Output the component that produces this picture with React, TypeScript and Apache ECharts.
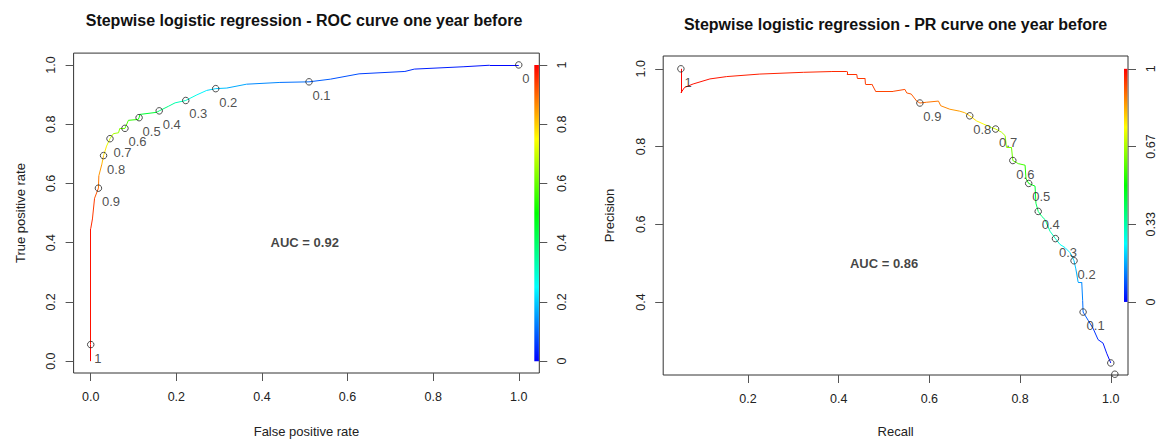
import React, { useEffect, useRef } from 'react';
import * as echarts from 'echarts';

// ---------- texts ----------
const rocTitle = 'Stepwise logistic regression - ROC curve one year before';
const prTitle = 'Stepwise logistic regression - PR curve one year before';
const rocXName = 'False positive rate';
const rocYName = 'True positive rate';
const prXName = 'Recall';
const prYName = 'Precision';
const rocAucText = 'AUC = 0.92';
const prAucText = 'AUC = 0.86';
const rocAucPos = [0.5, 0.4];
const prAucPos = [0.5, 0.5];

// ---------- ROC curve (fpr, tpr, cutoff) ----------
const rocFpr = [0, 0, 0, 0.004, 0.009, 0.018, 0.019, 0.026, 0.030, 0.037, 0.045, 0.053, 0.065, 0.068, 0.080, 0.088, 0.111, 0.113, 0.115, 0.154, 0.160, 0.181, 0.197, 0.222, 0.248, 0.271, 0.292, 0.318, 0.364, 0.442, 0.510, 0.560, 0.627, 0.734, 0.756, 0.872, 0.932, 1.0];
const rocTpr = [0, 0.056, 0.447, 0.48, 0.55, 0.584, 0.626, 0.665, 0.694, 0.726, 0.751, 0.768, 0.771, 0.786, 0.786, 0.813, 0.816, 0.822, 0.833, 0.840, 0.845, 0.860, 0.872, 0.880, 0.899, 0.914, 0.920, 0.922, 0.935, 0.941, 0.943, 0.952, 0.970, 0.978, 0.986, 0.994, 0.999, 1.0];
const rocCutoff = [1, 1, 0.97, 0.95, 0.93, 0.9, 0.87, 0.83, 0.8, 0.75, 0.7, 0.67, 0.65, 0.62, 0.6, 0.56, 0.52, 0.5, 0.48, 0.42, 0.4, 0.36, 0.33, 0.3, 0.26, 0.22, 0.2, 0.18, 0.15, 0.12, 0.1, 0.085, 0.07, 0.05, 0.04, 0.02, 0.01, 0];

// labelled cutoffs on ROC
const rocMarkFpr = [0, 0.018, 0.030, 0.045, 0.080, 0.113, 0.160, 0.222, 0.292, 0.510, 1.0];
const rocMarkTpr = [0.056, 0.584, 0.694, 0.751, 0.786, 0.822, 0.845, 0.880, 0.920, 0.943, 1.0];
const rocMarkLabel = ['1', '0.9', '0.8', '0.7', '0.6', '0.5', '0.4', '0.3', '0.2', '0.1', '0'];

// ---------- PR curve (recall, precision, cutoff) ----------
const prRecall = [0.052, 0.052, 0.060, 0.079, 0.116, 0.153, 0.226, 0.322, 0.385, 0.418, 0.418, 0.440, 0.441, 0.458, 0.459, 0.473, 0.482, 0.520, 0.546, 0.550, 0.560, 0.572, 0.579, 0.594, 0.620, 0.625, 0.645, 0.667, 0.678, 0.689, 0.704, 0.719, 0.737, 0.746, 0.759, 0.767, 0.770, 0.781, 0.784, 0.796, 0.811, 0.813, 0.819, 0.833, 0.835, 0.840, 0.848, 0.855, 0.866, 0.878, 0.888, 0.899, 0.910, 0.919, 0.923, 0.928, 0.936, 0.938, 0.939, 0.950, 0.961, 0.972, 0.983, 0.991, 1.0];
const prPrecision = [1.0, 0.938, 0.952, 0.961, 0.974, 0.980, 0.9865, 0.991, 0.993, 0.993, 0.985, 0.985, 0.976, 0.976, 0.961, 0.961, 0.941, 0.942, 0.947, 0.938, 0.935, 0.917, 0.912, 0.914, 0.917, 0.905, 0.896, 0.891, 0.887, 0.879, 0.866, 0.858, 0.849, 0.845, 0.837, 0.828, 0.798, 0.798, 0.764, 0.756, 0.752, 0.718, 0.705, 0.698, 0.654, 0.633, 0.620, 0.612, 0.582, 0.563, 0.548, 0.540, 0.527, 0.506, 0.485, 0.451, 0.451, 0.404, 0.374, 0.353, 0.332, 0.303, 0.294, 0.268, 0.243];
const prCutoff = [1.0, 0.99, 0.988, 0.985, 0.98, 0.975, 0.97, 0.965, 0.96, 0.955, 0.955, 0.95, 0.95, 0.945, 0.94, 0.94, 0.935, 0.93, 0.925, 0.92, 0.915, 0.905, 0.9, 0.89, 0.88, 0.875, 0.86, 0.84, 0.82, 0.8, 0.77, 0.74, 0.72, 0.7, 0.68, 0.66, 0.64, 0.62, 0.6, 0.58, 0.55, 0.52, 0.5, 0.47, 0.43, 0.4, 0.38, 0.36, 0.33, 0.3, 0.27, 0.25, 0.22, 0.2, 0.18, 0.16, 0.14, 0.12, 0.1, 0.08, 0.06, 0.04, 0.03, 0.02, 0.0];

// labelled cutoffs on PR (last two labels fall outside the plot region)
const prMarkRecall = [0.052, 0.579, 0.689, 0.746, 0.784, 0.819, 0.840, 0.878, 0.919, 0.939, 1.0, 1.009];
const prMarkPrecision = [1.0, 0.912, 0.879, 0.845, 0.764, 0.705, 0.633, 0.563, 0.506, 0.374, 0.243, 0.214];
const prMarkLabel = ['1', '0.9', '0.8', '0.7', '0.6', '0.5', '0.4', '0.3', '0.2', '0.1', '', ''];

// ---------- ticks ----------
const rocTicks = [0, 0.2, 0.4, 0.6, 0.8, 1.0];
const rocTickLabels = ['0.0', '0.2', '0.4', '0.6', '0.8', '1.0'];
const rocColorTicks = [0, 0.2, 0.4, 0.6, 0.8, 1.0];
const rocColorTickLabels = ['0', '0.2', '0.4', '0.6', '0.8', '1'];
const prXTicks = [0.2, 0.4, 0.6, 0.8, 1.0];
const prXTickLabels = ['0.2', '0.4', '0.6', '0.8', '1.0'];
const prYTicks = [0.4, 0.6, 0.8, 1.0];
const prYTickLabels = ['0.4', '0.6', '0.8', '1.0'];
const prColorTicks = [0.4, 0.6, 0.8, 1.0];
const prColorTickLabels = ['0', '0.33', '0.67', '1'];

// ---------- helpers ----------
const rainbow = (c: number) => `hsl(${Math.round((1 - c) * 240)}, 100%, 50%)`;

const fmt = (ticks: number[], labels: string[]) => (v: number) => {
  const i = ticks.findIndex((t) => Math.abs(t - v) < 1e-6);
  return i >= 0 ? labels[i] : '';
};

const segments = (xs: number[], ys: number[], cs: number[]) => {
  const out: any[] = [];
  for (let i = 0; i < xs.length - 1; i++) {
    out.push({
      coords: [[xs[i], ys[i]], [xs[i + 1], ys[i + 1]]],
      lineStyle: { color: rainbow((cs[i] + cs[i + 1]) / 2) },
    });
  }
  return out;
};

const TXT = '#222';
const TICK = '#555';
const FONT = '"Liberation Sans", Arial, sans-serif';

const valueAxis = (o: any) => ({
  type: 'value',
  gridIndex: o.grid,
  position: o.position,
  min: o.min,
  max: o.max,
  axisLine: { show: false, onZero: false },
  splitLine: { show: false },
  axisTick: { show: true, length: 8, customValues: o.ticks, lineStyle: { color: TICK, width: 1 } },
  axisLabel: {
    customValues: o.ticks,
    formatter: fmt(o.ticks, o.labels),
    fontSize: 12.5,
    color: TXT,
    margin: o.margin,
    rotate: o.rotate || 0,
    fontFamily: FONT,
  },
  name: o.name || '',
  nameLocation: 'middle',
  nameGap: o.nameGap || 0,
  nameTextStyle: { fontSize: 13, color: TXT, fontFamily: FONT },
});

const marks = (xs: number[], ys: number[], labels: string[]) =>
  xs.map((x, i) => ({ value: [x, ys[i]], name: labels[i], label: { show: labels[i] !== '' } }));

export default function App() {
  const ref = useRef<HTMLDivElement>(null);

  useEffect(() => {
    if (!ref.current) return;
    const chart = echarts.init(ref.current, undefined, { renderer: 'svg' });

    const markLabel = {
      show: true,
      position: [7.25, 17.25],
      align: 'left',
      verticalAlign: 'middle',
      fontSize: 13,
      color: TXT,
      fontFamily: FONT,
      formatter: (p: any) => p.name,
    };
    const markStyle = { color: 'rgba(0,0,0,0)', borderColor: '#222', borderWidth: 1 };
    const aucLabel = (t: string) => ({
      show: true,
      position: 'inside',
      fontSize: 13,
      fontWeight: 'bold',
      color: '#111',
      fontFamily: FONT,
      formatter: () => t,
    });

    const option: any = {
      animation: false,
      backgroundColor: '#ffffff',
      textStyle: { fontFamily: FONT },
      title: [
        {
          text: rocTitle,
          left: 304,
          top: 12,
          textAlign: 'center',
          padding: 0,
          textStyle: { fontSize: 16, fontWeight: 'bold', color: '#111', fontFamily: FONT },
        },
        {
          text: prTitle,
          left: 895.5,
          top: 16,
          textAlign: 'center',
          padding: 0,
          textStyle: { fontSize: 16, fontWeight: 'bold', color: '#111', fontFamily: FONT },
        },
      ],
      grid: [
        { left: 73.6, top: 53.1, width: 465.7, height: 322.2, show: true, borderColor: '#333', borderWidth: 1, backgroundColor: 'transparent' },
        { left: 663.2, top: 56, width: 464.8, height: 322.9, show: true, borderColor: '#333', borderWidth: 1, backgroundColor: 'transparent' },
      ],
      xAxis: [
        valueAxis({ grid: 0, position: 'bottom', min: -0.04, max: 1.048, ticks: rocTicks, labels: rocTickLabels, margin: 17, name: rocXName, nameGap: 52 }),
        valueAxis({ grid: 1, position: 'bottom', min: 0.013, max: 1.038, ticks: prXTicks, labels: prXTickLabels, margin: 17, name: prXName, nameGap: 50 }),
      ],
      yAxis: [
        valueAxis({ grid: 0, position: 'left', min: -0.04, max: 1.04, ticks: rocTicks, labels: rocTickLabels, margin: 16, rotate: 90, name: rocYName, nameGap: 47 }),
        valueAxis({ grid: 0, position: 'right', min: -0.04, max: 1.04, ticks: rocColorTicks, labels: rocColorTickLabels, margin: 16, rotate: 90 }),
        valueAxis({ grid: 1, position: 'left', min: 0.212, max: 1.033, ticks: prYTicks, labels: prYTickLabels, margin: 16, rotate: 90, name: prYName, nameGap: 47 }),
        valueAxis({ grid: 1, position: 'right', min: 0.212, max: 1.033, ticks: prColorTicks, labels: prColorTickLabels, margin: 16, rotate: 90 }),
      ],
      series: [
        {
          type: 'lines',
          coordinateSystem: 'cartesian2d',
          xAxisIndex: 0,
          yAxisIndex: 0,
          lineStyle: { width: 1, opacity: 1 },
          data: segments(rocFpr, rocTpr, rocCutoff),
          silent: true,
        },
        {
          type: 'scatter',
          xAxisIndex: 0,
          yAxisIndex: 0,
          symbol: 'circle',
          symbolSize: 6.5,
          itemStyle: markStyle,
          label: markLabel,
          data: marks(rocMarkFpr, rocMarkTpr, rocMarkLabel),
          silent: true,
        },
        {
          type: 'scatter',
          xAxisIndex: 0,
          yAxisIndex: 0,
          symbolSize: 0,
          label: aucLabel(rocAucText),
          data: [rocAucPos],
          silent: true,
        },
        {
          type: 'lines',
          coordinateSystem: 'cartesian2d',
          xAxisIndex: 1,
          yAxisIndex: 2,
          lineStyle: { width: 1, opacity: 1 },
          data: segments(prRecall, prPrecision, prCutoff),
          silent: true,
        },
        {
          type: 'scatter',
          xAxisIndex: 1,
          yAxisIndex: 2,
          symbol: 'circle',
          symbolSize: 6.5,
          itemStyle: markStyle,
          label: markLabel,
          data: marks(prMarkRecall, prMarkPrecision, prMarkLabel),
          silent: true,
        },
        {
          type: 'scatter',
          xAxisIndex: 1,
          yAxisIndex: 2,
          symbolSize: 0,
          label: aucLabel(prAucText),
          data: [prAucPos],
          silent: true,
        },
      ],
    };
    chart.setOption(option);

    // colour keys, placed from the axes
    const gradient = {
      type: 'linear', x: 0, y: 0, x2: 0, y2: 1,
      colorStops: [
        { offset: 0, color: '#ff0000' },
        { offset: 0.25, color: '#ffff00' },
        { offset: 0.5, color: '#00ff00' },
        { offset: 0.75, color: '#00ffff' },
        { offset: 1, color: '#0000ff' },
      ],
    };
    const l1 = chart.convertToPixel({ xAxisIndex: 0, yAxisIndex: 1 }, [1.048, 1]) as number[];
    const l0 = chart.convertToPixel({ xAxisIndex: 0, yAxisIndex: 1 }, [1.048, 0]) as number[];
    const r1 = chart.convertToPixel({ xAxisIndex: 1, yAxisIndex: 3 }, [1.038, 1.0]) as number[];
    const r0 = chart.convertToPixel({ xAxisIndex: 1, yAxisIndex: 3 }, [1.038, 0.4]) as number[];
    chart.setOption({
      graphic: [
        { type: 'rect', silent: true, shape: { x: l1[0] - 5, y: l1[1], width: 4.6, height: l0[1] - l1[1] }, style: { fill: gradient } },
        { type: 'rect', silent: true, shape: { x: r1[0] - 4, y: r1[1], width: 3.4, height: r0[1] - r1[1] }, style: { fill: gradient } },
      ],
    });

    return () => chart.dispose();
  }, []);

  return <div ref={ref} style={{ position: 'absolute', left: 0, top: 0, width: 1160, height: 443 }} />;
}
